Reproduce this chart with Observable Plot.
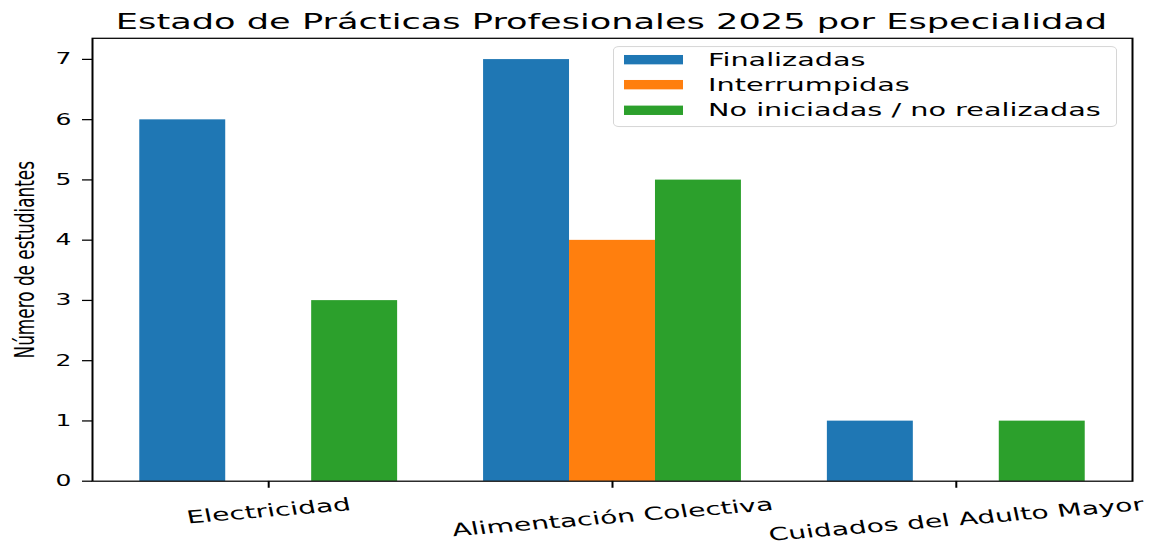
<!DOCTYPE html>
<html><head><meta charset="utf-8">
<script src="https://cdn.jsdelivr.net/npm/d3@7"></script>
<script src="https://cdn.jsdelivr.net/npm/@observablehq/plot@0.6"></script>
<style>
html,body{margin:0;padding:0;background:#fff;overflow:hidden;}
#wrap{position:relative;width:1151px;transform-origin:0 0;}
#wrap svg{position:absolute;left:0;top:0;}
.legend{position:absolute;box-sizing:border-box;border:1.5px solid #cccccc;border-radius:6px;background:rgba(255,255,255,0.8);font-family:"DejaVu Sans";color:#000;}
.legend .sw{position:absolute;}
.legend .lt{position:absolute;white-space:nowrap;line-height:1;}
</style></head>
<body><div id="wrap"></div>
<script>
const categories = ["Electricidad", "Alimentación Colectiva", "Cuidados del Adulto Mayor"];
const series = ["Finalizadas", "Interrumpidas", "No iniciadas / no realizadas"];
const finalizadas = [6, 7, 1];
const interrumpidas = [0, 4, 0];
const noIniciadas = [3, 5, 1];
const colors = ["#1f77b4", "#ff7f0e", "#2ca02c"];
const yTicks = [0, 1, 2, 3, 4, 5, 6, 7];
const titleText = "Estado de Prácticas Profesionales 2025 por Especialidad";
const yLabel = "Número de estudiantes";

const K = 1.6;
const W = 1151;
const H = Math.round(548 * K);
const mTop = 38 * K, mBottom = H - 481 * K, mLeft = 92, mRight = 19;
const frameBottom = H - mBottom;

const values = [finalizadas, interrumpidas, noIniciadas];
const barW = 0.25;
const rows = [];
categories.forEach((c, ci) => series.forEach((s, si) => rows.push({category: c, ci, series: s, si, value: values[si][ci]})));

const lo = -1.5 * barW, hi = categories.length - 1 + 1.5 * barW;
const pad = 0.05 * (hi - lo);
const yMax = d3.max(values.flat()) * 1.05;

const xFont = 28.2;
const ctx = document.createElement("canvas").getContext("2d");
ctx.font = `${xFont}px "DejaVu Sans"`;
const theta = 7.5;
const rad = theta * Math.PI / 180;
const labelTop = 494 * K;
const xLabelMarks = categories.map((c, ci) => {
  const w = ctx.measureText(c).width;
  const bh = w * Math.sin(rad) + xFont * 1.164 * Math.cos(rad);
  return Plot.text([c], {
    x: () => ci, frameAnchor: "bottom", dy: labelTop + bh / 2 - frameBottom,
    rotate: -theta, text: d => d, fontSize: xFont, textAnchor: "middle", lineAnchor: "middle", fill: "black"
  });
});

const chart = Plot.plot({
  width: W, height: H,
  marginTop: mTop, marginBottom: mBottom, marginLeft: mLeft, marginRight: mRight,
  style: {fontFamily: "DejaVu Sans", color: "black", background: "white", overflow: "visible"},
  x: {type: "linear", domain: [lo - pad, hi + pad]},
  y: {domain: [0, yMax]},
  color: {domain: series, range: colors},
  marks: [
    Plot.rectY(rows.filter(d => d.value > 0), {
      x1: d => d.ci + (d.si - 1) * barW - barW / 2,
      x2: d => d.ci + (d.si - 1) * barW + barW / 2,
      y1: 0, y2: "value", fill: "series"
    }),
    Plot.frame({stroke: "black", strokeWidth: 2}),
    Plot.axisY({ticks: yTicks, tickSize: 10, tickPadding: 11, fontSize: 25, label: null, strokeWidth: 2, tickFormat: d => String(d)}),
    Plot.axisX({ticks: categories.map((_, i) => i), tickSize: 11, tickFormat: () => "", label: null, strokeWidth: 2}),
    ...xLabelMarks,
    Plot.text([yLabel], {frameAnchor: "left", dx: 33 - mLeft, rotate: -90, text: d => d, fontSize: 27, textAnchor: "middle", lineAnchor: "bottom", fill: "black"}),
    Plot.text([titleText], {frameAnchor: "top", dy: 45.3 - mTop, dx: -1, text: d => d, fontSize: 35.2, textAnchor: "middle", lineAnchor: "bottom", fill: "black"})
  ]
});

const wrap = document.getElementById("wrap");
wrap.style.height = H + "px";
wrap.style.transform = `scale(1, ${548 / H})`;
wrap.appendChild(chart);

// legend (inside plot area, upper right)
const legFont = 28.7;
const leg = document.createElement("div");
leg.className = "legend";
Object.assign(leg.style, {left: "613px", top: (46 * K) + "px", width: "504px", height: ((127 - 46) * K) + "px"});
const rowCenters = [59.2, 84.3, 109.4];
series.forEach((s, i) => {
  const cy = rowCenters[i] * K - 46 * K;
  const sw = document.createElement("div");
  sw.className = "sw";
  Object.assign(sw.style, {left: "10px", top: (cy - 7.5) + "px", width: "59px", height: "15px", background: colors[i]});
  leg.appendChild(sw);
  const t = document.createElement("div");
  t.className = "lt";
  t.textContent = s;
  Object.assign(t.style, {left: "94px", top: (cy - legFont * 0.5) + "px", fontSize: legFont + "px", height: legFont + "px"});
  leg.appendChild(t);
});
wrap.appendChild(leg);
</script>
</body></html>
